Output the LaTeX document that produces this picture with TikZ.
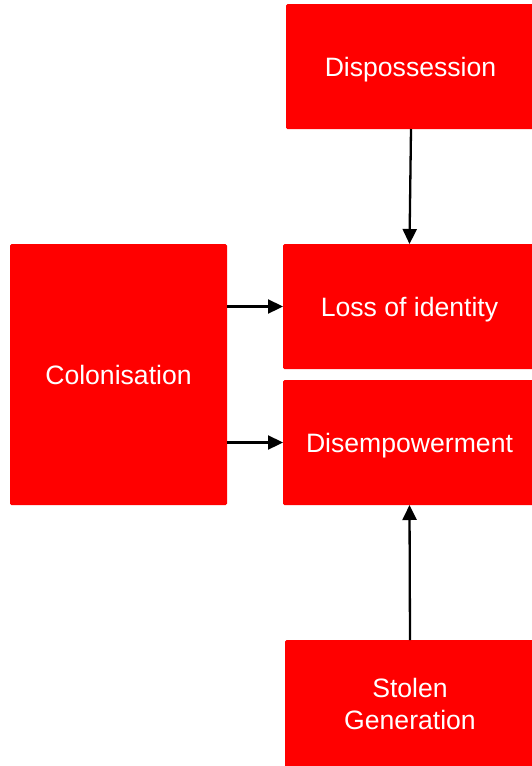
\documentclass[tikz,border=0pt]{standalone}
\usepackage{fontspec}
\setmainfont{Liberation Sans}
\usetikzlibrary{arrows.meta}
\begin{document}
\begin{tikzpicture}
    [x = 1pt, y = -1pt, outer sep = 0pt, box/.style={rectangle, fill =
      red, draw = none, rounded corners = 1.5pt, text = white, align =
      center, inner sep = 0pt, font = \fontsize{26.6}{32}\selectfont},
    oneline/.style={text depth = 0pt},
    link/.style={-{Triangle[length = 15pt, width = 14pt]}, line width =
      2.3pt, black}]

    \useasboundingbox (0,0) rectangle (531,766);

    \node [box, oneline, minimum width = 249pt, minimum height = 125pt]
    (dispossession) at (410.5,66.5) {Dispossession};
    \node [box, oneline, minimum width = 253pt, minimum height = 125pt]
    (loss_identity) at (409.5,306.5) {Loss of identity};
    \node [box, oneline, minimum width = 253pt, minimum height = 125pt]
    (disempowerment) at (409.5,442.5) {Disempowerment};
    \node [box, oneline, minimum width = 217pt, minimum height = 261pt]
    (colonisation) at (118.5,374.5) {Colonisation};
    \node [box, minimum width = 250pt, minimum height = 128pt]
    (stolen_generation) at (410,704) {Stolen\\Generation};

    \draw [link] ([xshift = 0.5pt]dispossession.south) -- (loss_identity.north);
    \draw [link] (colonisation.east |- loss_identity.west) -- (loss_identity.west);
    \draw [link] (colonisation.east |- disempowerment.west) -- (disempowerment.west);
    \draw [link] (stolen_generation.north) -- (disempowerment.south);
  \end{tikzpicture}
\end{document}
